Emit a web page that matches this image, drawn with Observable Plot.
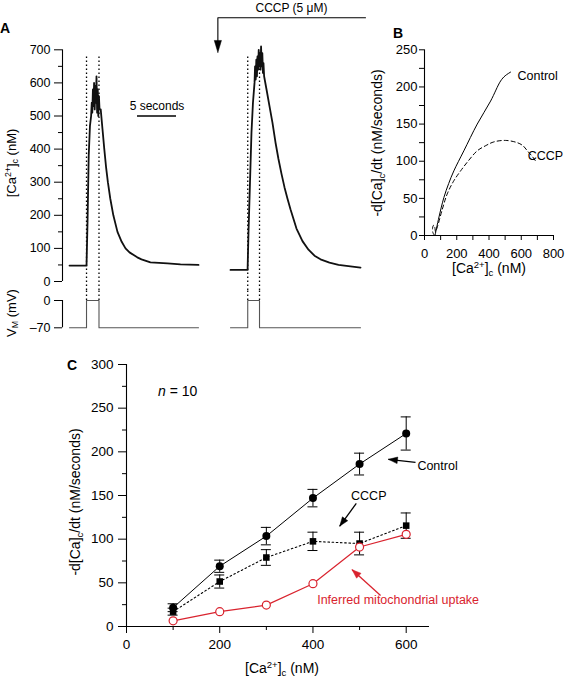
<!DOCTYPE html>
<html><head><meta charset="utf-8">
<script src="https://cdn.jsdelivr.net/npm/d3@7"></script>
<script src="https://cdn.jsdelivr.net/npm/@observablehq/plot@0.6"></script>
<style>
body{margin:0;background:#fff;}
#fig{position:relative;width:574px;height:678px;overflow:hidden;font-family:"Liberation Sans",Arial,Helvetica,sans-serif;color:#000;background:#fff;}
.lbl{position:absolute;white-space:nowrap;font-size:14px;line-height:1;}
.rot{transform:translate(-50%,-50%) rotate(-90deg);}
.hz{transform:translate(-50%,-50%);}
.lbl sup{font-size:0.68em;vertical-align:0.5em;line-height:0;}
.lbl sub{font-size:0.68em;vertical-align:-0.3em;line-height:0;}
.let{position:absolute;font-weight:bold;font-size:14px;line-height:1;transform:translateY(-50%);}
</style></head>
<body>
<div id="fig">
 <div class="let" style="left:0px;top:28px">A</div>
 <div class="let" style="left:393px;top:33px">B</div>
 <div class="let" style="left:67px;top:365px">C</div>
 <div class="lbl rot" style="left:11px;top:163px;font-size:13px">[Ca<sup>2+</sup>]<sub>c</sub> (nM)</div>
 <div class="lbl rot" style="left:11px;top:313px;font-size:13px">V<sub>M</sub> (mV)</div>
 <div class="lbl rot" style="left:377px;top:143px">-d[Ca]<sub>c</sub>/dt (nM/seconds)</div>
 <div class="lbl hz" style="left:489px;top:268px">[Ca<sup>2+</sup>]<sub>c</sub> (nM)</div>
 <div class="lbl rot" style="left:75px;top:502px">-d[Ca]<sub>c</sub>/dt (nM/seconds)</div>
 <div class="lbl hz" style="left:282px;top:668px">[Ca<sup>2+</sup>]<sub>c</sub> (nM)</div>
 <div class="lbl" style="left:158px;top:391px;transform:translateY(-50%)"><i>n</i> = 10</div>
</div>
<script>
// ---------- Panel A data ----------
const ctrlTraceT  = [0,2.18,2.31,2.46,2.62,2.77,2.85,2.92,3.0,3.08,3.15,3.23,3.31,3.38,3.46,3.54,3.62,3.69,3.77,3.85,4.0,4.23,4.46,4.69,4.92,5.23,5.62,6.15,6.69,7.18,7.69,8.69,9.23,10.38,12.56,14.23,16.54];
const ctrlTraceCa = [48,48,180,380,470,500,540,510,580,530,600,520,590,540,620,510,580,500,560,520,520,460,400,345,300,250,200,150,120,100,88,73,67,58,55,52,50];
const cccpTraceT  = [0,2.19,2.31,2.5,2.69,2.88,3.08,3.15,3.23,3.31,3.39,3.46,3.54,3.62,3.69,3.77,3.85,3.92,4.0,4.08,4.16,4.23,4.31,4.62,5.0,5.38,5.77,6.15,6.54,6.92,7.31,7.69,8.46,9.23,10.0,10.77,11.54,12.69,13.85,15.38,16.67];
const cccpTraceCa = [35,35,150,300,450,540,600,650,610,670,620,680,640,700,650,690,640,710,650,690,630,660,620,580,530,480,420,370,325,285,250,218,160,122,96,78,67,57,50,46,42];
const vmLevels = [-70,-70,0,0,-70,-70];
const ctrlPulse = [2.18,3.78];
const cccpPulse = [2.21,3.72];
const ctrlTraceEnd = 16.54, cccpTraceEnd = 16.67;
const caTicks = [0,100,200,300,400,500,600,700];
const caMinorTicks = [50,150,250,350,450,550,650];
const vmTicks = [0,-70];
const scaleBar = {t1: 8.72, t2: 13.72, ca: 500, label: "5 seconds"};
const cccpLabel = "CCCP (5 μM)";

// ---------- Panel B data ----------
const bCtrlCa   = [65,90,120,150,182,244,327,410,472,500,534];
const bCtrlRate = [0,25,51,70,87,114,150,181,208,215,220];
const bCccpCa   = [62,52,50,56,64,68,79,110,141,180,224,270,327,380,430,503,575,610,638,670,696];
const bCccpRate = [0,4,10,14,11,5,11,35,56,73,87,100,114,121,126,128,125,121,114,106,98];
const bXTicks = [0,200,400,600,800];
const bXMinor = [100,300,500,700];
const bYTicks = [0,50,100,150,200,250];
const bYMinor = [25,75,125,175,225];

// ---------- Panel C data ----------
const cCa       = [100,200,300,400,500,600];
const cCtrlMean = [21.5,69,103.5,147,186,221];
const cCtrlErr  = [4.5,7,10,10,12.5,19];
const cCccpMean = [17,51.5,79,97.5,95,115.5];
const cCccpErr  = [4,7.5,9,10.5,13,14.5];
const cMitoMean = [6.5,17,24.5,49,91,105.5];
const cXTicks = [0,200,400,600];
const cXMinor = [100,300,500];
const cYTicks = [0,50,100,150,200,250,300];
const cYMinor = [25,75,125,175,225,275];

const red = "#d9232e";
const FONT = '"Liberation Sans", Arial, Helvetica, sans-serif';
const fig = document.getElementById("fig");
function st(fs){ return {background:"transparent", overflow:"visible", fontFamily:FONT, fontSize:(fs||13)+"px", color:"#000"}; }
function place(svg, left, top){ svg.style.position="absolute"; svg.style.left=left+"px"; svg.style.top=top+"px"; fig.appendChild(svg); }
function arrowHead(a, sx, sy, len, half){
  const tx=sx(a.x1), ty=sy(a.y1), hx=sx(a.x2), hy=sy(a.y2);
  const d=Math.hypot(hx-tx,hy-ty), ux=(hx-tx)/d, uy=(hy-ty)/d;
  const bx=hx-ux*len, by=hy-uy*len;
  return [[hx,hy],[bx-uy*half,by+ux*half],[bx+uy*half,by-ux*half],[hx,hy]]
    .map(([px,py])=>({x:sx.invert(px), y:sy.invert(py), id:a.id}));
}
const dotted = {strokeDasharray:"1.4,2.6", strokeWidth:1.3, stroke:"#000"};

const ctrlTrace = ctrlTraceT.map((t,i)=>({t, ca: ctrlTraceCa[i]}));
const cccpTrace = cccpTraceT.map((t,i)=>({t, ca: cccpTraceCa[i]}));
const vmCtrl = [0,ctrlPulse[0],ctrlPulse[0],ctrlPulse[1],ctrlPulse[1],ctrlTraceEnd].map((t,i)=>({t, v: vmLevels[i]}));
const vmCccp = [0,cccpPulse[0],cccpPulse[0],cccpPulse[1],cccpPulse[1],cccpTraceEnd].map((t,i)=>({t, v: vmLevels[i]}));

// ---- A left: [Ca] ----
const aXL = [-0.9, 16.54];
place(Plot.plot({
  width:200, height:260, marginLeft:62, marginRight:2, marginTop:19.3, marginBottom:9,
  x:{domain:aXL, axis:null}, y:{domain:[0,700]}, style:st(12.5),
  marks:[
    Plot.ruleX([aXL[0]], {y1:0, y2:700, strokeWidth:1.1}),
    Plot.axisY({ticks:caTicks, tickSize:8, tickPadding:4, label:null, tickFormat:d=>String(d)}),
    Plot.axisY({ticks:caMinorTicks, tickSize:4, label:null, tickFormat:()=>""}),
    Plot.ruleX(ctrlPulse, {y1:-27, y2:686, ...dotted}),
    Plot.line(ctrlTrace, {x:"t", y:"ca", stroke:"#111", strokeWidth:1.8, strokeLinejoin:"round"}),
    Plot.ruleY([scaleBar], {y:"ca", x1:"t1", x2:"t2", strokeWidth:1.6}),
    Plot.text([scaleBar], {x:d=>(d.t1+d.t2)/2, y:d=>d.ca+29, text:"label", fontSize:12})
  ]
}), 0, 30);

// ---- A left: Vm ----
place(Plot.plot({
  width:200, height:45, marginLeft:62, marginRight:2, marginTop:10, marginBottom:7.7,
  x:{domain:aXL, axis:null}, y:{domain:[-70,0]}, style:st(12.5),
  marks:[
    Plot.ruleX([aXL[0]], {y1:-70, y2:0, strokeWidth:1.1}),
    Plot.axisY({ticks:vmTicks, tickSize:8, tickPadding:4, label:null, tickFormat:d=> d<0 ? "–70" : "0"}),
    Plot.ruleX(ctrlPulse, {y1:0, y2:26, ...dotted}),
    Plot.line(vmCtrl, {x:"t", y:"v", stroke:"#555", strokeWidth:1.1})
  ]
}), 0, 290);

// ---- A right: [Ca] with CCCP ----
const aXR = [0, 16.67];
const cccpBracket = [{t:17.31, ca:797},{t:-1.62, ca:797},{t:-1.62, ca:720}];
const cccpArrow = {x1:-1.62, y1:797, x2:-1.62, y2:692, id:"a"};
const sxR = d3.scaleLinear().domain(aXR).range([30,160]);
const syR = d3.scaleLinear().domain([0,700]).range([281,49.3]);
place(Plot.plot({
  width:170, height:290, marginLeft:30, marginRight:10, marginTop:49.3, marginBottom:9,
  x:{domain:aXR, axis:null}, y:{domain:[0,700], axis:null}, style:st(12.5),
  marks:[
    Plot.ruleX(cccpPulse, {y1:-27, y2:686, ...dotted}),
    Plot.line(cccpTrace, {x:"t", y:"ca", stroke:"#111", strokeWidth:1.8, strokeLinejoin:"round"}),
    Plot.line(cccpBracket, {x:"t", y:"ca", stroke:"#000", strokeWidth:1.1}),
    Plot.line(arrowHead(cccpArrow, sxR, syR, 12, 3.6), {x:"x", y:"y", fill:"#000", stroke:"#000", strokeWidth:0.5}),
    Plot.text([cccpLabel], {x:()=>7.82, y:()=>826, text:d=>d, fontSize:12})
  ]
}), 200, 0);

// ---- A right: Vm ----
place(Plot.plot({
  width:170, height:45, marginLeft:30, marginRight:10, marginTop:10, marginBottom:7.7,
  x:{domain:aXR, axis:null}, y:{domain:[-70,0], axis:null}, style:st(12.5),
  marks:[
    Plot.ruleX(cccpPulse, {y1:0, y2:26, ...dotted}),
    Plot.line(vmCccp, {x:"t", y:"v", stroke:"#555", strokeWidth:1.1})
  ]
}), 200, 290);

// ---- B ----
const bCtrl = bCtrlCa.map((x,i)=>({x, y:bCtrlRate[i]}));
const bCccp = bCccpCa.map((x,i)=>({x, y:bCccpRate[i]}));
const bLabels = [{x:577, y:215, text:"Control"},{x:640, y:107, text:"CCCP"}];
place(Plot.plot({
  width:204, height:265, marginLeft:54, marginRight:21, marginTop:29.3, marginBottom:50,
  x:{domain:[0,800]}, y:{domain:[0,250]}, style:st(13),
  marks:[
    Plot.ruleX([0], {strokeWidth:1.1}),
    Plot.ruleY([0], {strokeWidth:1.1}),
    Plot.axisY({ticks:bYTicks, tickSize:5, tickPadding:2, label:null, tickFormat:d=>String(d)}),
    Plot.axisY({ticks:bYMinor, tickSize:5, label:null, tickFormat:()=>""}),
    Plot.axisX({ticks:bXTicks, tickSize:5, tickPadding:8, label:null, tickFormat:d=>String(d)}),
    Plot.axisX({ticks:bXMinor, tickSize:5, label:null, tickFormat:()=>""}),
    Plot.line(bCtrl, {x:"x", y:"y", stroke:"#000", strokeWidth:1, curve:"catmull-rom"}),
    Plot.line(bCccp, {x:"x", y:"y", stroke:"#000", strokeWidth:1, strokeDasharray:"4,3", curve:"catmull-rom"}),
    Plot.text(bLabels, {x:"x", y:"y", text:"text", textAnchor:"start", fontSize:12.5})
  ]
}), 370, 20);

// ---- C ----
const cCtrl = cCa.map((x,i)=>({x, y:cCtrlMean[i], e:cCtrlErr[i]}));
const cCccp = cCa.map((x,i)=>({x, y:cCccpMean[i], e:cCccpErr[i]}));
const cMito = cCa.map((x,i)=>({x, y:cMitoMean[i]}));
const cW=534, cH=338, cML=86, cMR=145, cMT=24, cMB=52, cXD=[0,650], cYD=[0,300];
const sxC = d3.scaleLinear().domain(cXD).range([cML, cW-cMR]);
const syC = d3.scaleLinear().domain(cYD).range([cH-cMB, cMT]);
const capHalf = sxC.invert(cML+5) - cXD[0];
const cArrows = [
  {id:"ctrl", x1:620, y1:188, x2:562, y2:191.4, color:"#000"},
  {id:"cccp", x1:493, y1:141, x2:457.5, y2:115, color:"#000"},
  {id:"mito", x1:545, y1:35.6, x2:484, y2:65, color:red}
];
const cNotesStart = [
  {x:624, y:184, text:"Control", color:"#000"},
  {x:409, y:30, text:"Inferred mitochondrial uptake", color:red}
];
const cNotesMid = [
  {x:519.7, y:149, text:"CCCP", color:"#000"}
];
const heads = cArrows.flatMap(a => arrowHead(a, sxC, syC, 9, 3.3).map(p => ({...p, color:a.color})));
function errMarks(data){
  return [
    Plot.ruleX(data, {x:"x", y1:d=>d.y-d.e, y2:d=>d.y+d.e, stroke:"#000", strokeWidth:1}),
    Plot.ruleY(data, {y:d=>d.y+d.e, x1:d=>d.x-capHalf, x2:d=>d.x+capHalf, stroke:"#000", strokeWidth:1}),
    Plot.ruleY(data, {y:d=>d.y-d.e, x1:d=>d.x-capHalf, x2:d=>d.x+capHalf, stroke:"#000", strokeWidth:1})
  ];
}
place(Plot.plot({
  width:cW, height:cH, marginLeft:cML, marginRight:cMR, marginTop:cMT, marginBottom:cMB,
  x:{domain:cXD}, y:{domain:cYD}, style:st(13.5),
  marks:[
    Plot.ruleX([0], {strokeWidth:1.1}),
    Plot.ruleY([0], {strokeWidth:1.1}),
    Plot.axisY({ticks:cYTicks, tickSize:8, tickPadding:5, label:null, tickFormat:d=>String(d)}),
    Plot.axisY({ticks:cYMinor, tickSize:4, label:null, tickFormat:()=>""}),
    Plot.axisX({ticks:cXTicks, tickSize:7, tickPadding:6, label:null, tickFormat:d=>String(d)}),
    Plot.axisX({ticks:cXMinor, tickSize:4, label:null, tickFormat:()=>""}),
    ...errMarks(cCtrl),
    ...errMarks(cCccp),
    Plot.line(cCtrl, {x:"x", y:"y", stroke:"#000", strokeWidth:1}),
    Plot.line(cCccp, {x:"x", y:"y", stroke:"#000", strokeWidth:1.1, strokeDasharray:"1.6,2.6"}),
    Plot.line(cMito, {x:"x", y:"y", stroke:red, strokeWidth:1.2}),
    Plot.dot(cCtrl, {x:"x", y:"y", r:4, fill:"#000", stroke:"none"}),
    Plot.dot(cCccp, {x:"x", y:"y", r:3.7, symbol:"square", fill:"#000", stroke:"none"}),
    Plot.dot(cMito, {x:"x", y:"y", r:4, fill:"#fff", stroke:red, strokeWidth:1.2}),
    Plot.link(cArrows, {x1:"x1", y1:"y1", x2:"x2", y2:"y2", stroke:"color", strokeWidth:1.3}),
    Plot.line(heads, {x:"x", y:"y", z:"id", fill:"color", stroke:"color", strokeWidth:0.5}),
    Plot.text(cNotesStart, {x:"x", y:"y", text:"text", textAnchor:"start", fill:"color", fontSize:12.5}),
    Plot.text(cNotesMid, {x:"x", y:"y", text:"text", textAnchor:"middle", fill:"color", fontSize:12.5})
  ]
}), 40, 340);
</script>
</body></html>
